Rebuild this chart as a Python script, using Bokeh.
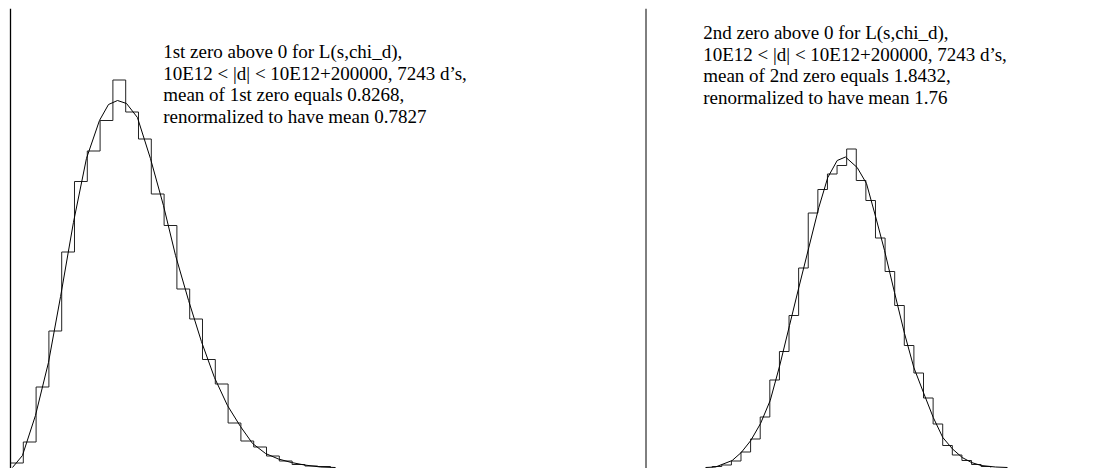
from bokeh.plotting import figure
from bokeh.layouts import row
from bokeh.models import Range1d, Span, Label
from bokeh.embed import file_html
from bokeh.resources import INLINE

# ---------------- data ----------------
bin_width = 0.0836

# Left panel: 1st zero histogram (counts per bin), bins start at 0
left_start = 0.0
left_counts = [9, 51, 161, 273, 431, 572, 633, 694, 775, 711, 657, 547, 484,
               357, 297, 216, 167, 89, 53, 41, 23, 13, 6, 3, 2]
left_curve_x = [0.013, 0.078, 0.163, 0.248, 0.327, 0.411, 0.496, 0.581, 0.640,
                0.699, 0.758, 0.829, 0.914, 0.999, 1.078, 1.163, 1.247, 1.332,
                1.417, 1.502, 1.581, 1.666, 1.750, 1.835, 1.920, 2.025, 2.123]
left_curve_y = [0, 24, 104, 210, 342, 490, 618, 694, 726, 734, 728, 700, 618,
                524, 424, 334, 252, 180, 124, 82, 48, 28, 17, 10, 5, 1, 0]
left_text = ["1st zero above 0 for L(s,chi_d),",
             "10E12 < |d| < 10E12+200000, 7243 d\u2019s,",
             "mean of 1st zero equals 0.8268,",
             "renormalized to have mean 0.7827"]

# Right panel: 2nd zero histogram
right_start = 0.576
right_counts = [2, 5, 13, 31, 57, 101, 175, 232, 304, 399, 509, 556, 587, 604,
                637, 574, 534, 459, 392, 324, 244, 189, 139, 87, 44, 25, 14, 6, 2]
right_curve_x = [0.518, 0.605, 0.750, 0.829, 0.912, 0.997, 1.081, 1.164, 1.249,
                 1.330, 1.417, 1.504, 1.582, 1.664, 1.736, 1.838, 1.919, 1.998,
                 2.076, 2.163, 2.250, 2.331, 2.418, 2.500, 2.583, 2.668, 2.752,
                 2.833, 2.917, 3.042, 3.146]
right_curve_y = [0, 1, 14, 30, 54, 88, 134, 204, 284, 360, 440, 520, 580, 614,
                 621, 600, 568, 502, 434, 350, 268, 200, 148, 100, 60, 37, 20,
                 10, 4, 1, 0]
right_text = ["2nd zero above 0 for L(s,chi_d),",
              "10E12 < |d| < 10E12+200000, 7243 d\u2019s,",
              "mean of 2nd zero equals 1.8432,",
              "renormalized to have mean 1.76"]

H = 468
TOP = 8
FH = H - TOP
FONT = "Liberation Serif"


def panel(width, x0, x1, start, counts, cx, cy, lines, tx, ty0, axis_w):
    p = figure(width=width, height=H, output_backend="svg", toolbar_location=None,
               x_range=Range1d(x0, x1), y_range=Range1d(-2, -2 + 2 * FH),
               min_border_left=0, min_border_right=0, min_border_top=TOP,
               min_border_bottom=0)
    p.axis.visible = False
    p.grid.visible = False
    p.outline_line_color = None
    p.background_fill_color = "white"
    p.border_fill_color = "white"
    edges = [start + i * bin_width for i in range(len(counts) + 1)]
    sx = [edges[0]] + edges
    sy = [0] + list(counts) + [0]
    p.step(sx, sy, mode="after", line_color="#222222", line_width=1)
    p.line(cx, cy, line_color="black", line_width=1)
    p.add_layout(Span(location=0, dimension="height", line_color="black",
                      line_width=axis_w))
    for i, t in enumerate(lines):
        p.add_layout(Label(x=tx, y=ty0 - i * 21.8, x_units="screen", y_units="screen",
                           text=t, text_font=FONT, text_font_size="19px",
                           text_color="black", text_baseline="alphabetic"))
    return p


W1 = 643
W2 = 1099 - W1
p1 = panel(W1, -10 / 153.11, -10 / 153.11 + W1 / 153.11, left_start, left_counts,
           left_curve_x, left_curve_y, left_text, 162.7, H - 50.7, 1.3)
p2 = panel(W2, -2.5 / 114.9, -2.5 / 114.9 + W2 / 114.9, right_start, right_counts,
           right_curve_x, right_curve_y, right_text, 59.7, H - 31.7, 1.0)

layout = row(p1, p2)
open("out.html", "w").write(file_html(layout, INLINE))
